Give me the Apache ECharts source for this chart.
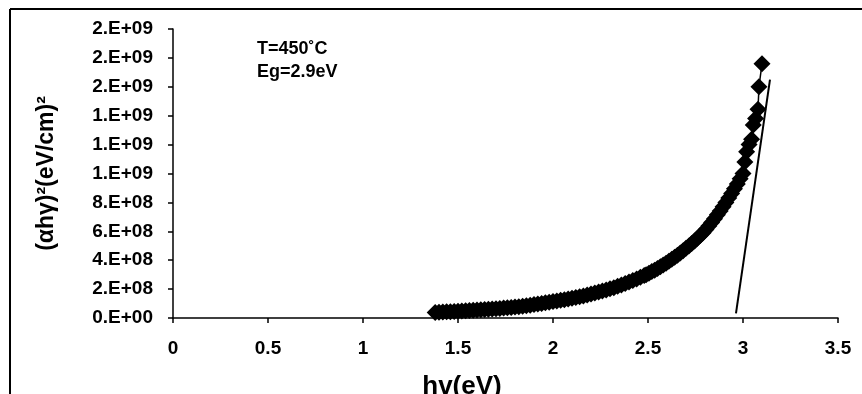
<!DOCTYPE html>
<html>
<head>
<meta charset="utf-8">
<script src="https://cdn.jsdelivr.net/npm/echarts@6/dist/echarts.min.js"></script>
<style>
html,body{margin:0;padding:0;background:#fff;}
#chart{width:862px;height:394px;}
</style>
</head>
<body>
<div id="chart"></div>
<script>
// ---- data ----
const hvValues = [
  1.38,1.40,1.42,1.44,1.46,1.48,1.50,1.52,1.54,1.56,1.58,1.60,1.62,1.64,1.66,1.68,1.70,
  1.72,1.74,1.76,1.78,1.80,1.82,1.84,1.86,1.88,1.90,1.92,1.94,1.96,1.98,2.00,
  2.02,2.04,2.06,2.08,2.10,2.12,2.14,2.16,2.18,2.20,2.22,2.24,2.26,2.28,2.30,2.32,
  2.34,2.36,2.38,2.40,2.42,2.44,2.46,2.48,2.49,
  2.505,2.52,2.535,2.55,2.565,2.58,2.595,2.61,2.625,2.64,2.655,2.67,
  2.685,2.70,2.715,2.73,2.745,2.76,2.775,2.79,
  2.805,2.82,2.835,2.85,2.865,2.88,2.895,
  2.91,2.925,2.94,2.955,2.97,2.985,3.00,
  3.010,3.019,3.032,3.045,3.054,3.066,3.079,3.084,3.100
];
const alphaHvSq = [
  3.80e7,3.94e7,4.09e7,4.24e7,4.40e7,4.56e7,4.73e7,4.91e7,5.10e7,5.27e7,5.42e7,5.57e7,5.73e7,5.89e7,6.05e7,6.22e7,6.40e7,
  6.62e7,6.85e7,7.09e7,7.33e7,7.59e7,7.85e7,8.17e7,8.52e7,8.88e7,9.26e7,9.65e7,1.006e8,1.049e8,1.093e8,1.140e8,
  1.182e8,1.226e8,1.271e8,1.318e8,1.367e8,1.417e8,1.470e8,1.529e8,1.591e8,1.655e8,1.722e8,1.792e8,1.864e8,1.940e8,2.018e8,2.100e8,
  2.19e8,2.284e8,2.382e8,2.484e8,2.59e8,2.70e8,2.82e8,2.94e8,3.00e8,
  3.104e8,3.21e8,3.31e8,3.43e8,3.55e8,3.67e8,3.79e8,3.92e8,4.06e8,4.20e8,4.34e8,4.50e8,
  4.66e8,4.82e8,4.98e8,5.16e8,5.33e8,5.52e8,5.71e8,5.90e8,
  6.13e8,6.37e8,6.61e8,6.87e8,7.14e8,7.41e8,7.70e8,
  7.99e8,8.30e8,8.61e8,8.94e8,9.28e8,9.63e8,1.00e9,
  1.08e9,1.151e9,1.20e9,1.237e9,1.336e9,1.38e9,1.444e9,1.60e9,1.76e9
];
// linear fit (tangent) line end points
const fitHv = [2.963, 3.142];
const fitVal = [3.2e7, 1.65e9];

const xTickLabels = ['0','0.5','1','1.5','2','2.5','3','3.5'];
const yTickLabels = ['0.E+00','2.E+08','4.E+08','6.E+08','8.E+08','1.E+09','1.E+09','1.E+09','2.E+09','2.E+09','2.E+09'];

const annotations = ['T=450˚C', 'Eg=2.9eV'];
const xName = 'hv(eV)';
const yName = '(αhγ)²(eV/cm)²';

// ---- build ----
const pc = document.createElement('canvas');
pc.width = 3; pc.height = 3;
const pctx = pc.getContext('2d');
pctx.fillStyle = '#000'; pctx.fillRect(0,0,3,3);
pctx.fillStyle = '#ffffff'; pctx.fillRect(1,1,1,1);

const pts = hvValues.map((v,i)=>[v, alphaHvSq[i]]);
const fitPts = fitHv.map((v,i)=>[v, fitVal[i]]);

const FONT = 'Liberation Sans, Arial, sans-serif';
const chart = echarts.init(document.getElementById('chart'));
chart.setOption({
  animation: false,
  backgroundColor: '#fff',
  grid: {left: 173, right: 24, top: 29, bottom: 76, containLabel: false, outerBoundsMode: 'none'},
  xAxis: {
    type: 'value', min: 0, max: 3.5, interval: 0.5,
    name: xName, nameLocation: 'middle', nameGap: 56,
    nameTextStyle: {fontFamily: FONT, fontWeight: 'bold', fontSize: 26, color: '#000', padding: [0, 87, 0, 0]},
    axisLine: {show: true, onZero: false, lineStyle: {color: '#000', width: 1.5}},
    axisTick: {show: true, inside: false, length: 5, lineStyle: {color: '#000', width: 1.5}},
    axisLabel: {fontFamily: FONT, fontWeight: 'bold', fontSize: 19, color: '#000', margin: 21,
      formatter: (v, i) => xTickLabels[i]},
    splitLine: {show: false}
  },
  yAxis: {
    type: 'value', min: 0, max: 2e9, interval: 2e8,
    name: yName, nameLocation: 'middle', nameGap: 115, nameRotate: 90,
    nameTextStyle: {fontFamily: FONT, fontWeight: 'bold', fontSize: 23, color: '#000'},
    axisLine: {show: true, onZero: false, lineStyle: {color: '#000', width: 1.5}},
    axisTick: {show: true, inside: false, length: 5, lineStyle: {color: '#000', width: 1.5}},
    axisLabel: {fontFamily: FONT, fontWeight: 'bold', fontSize: 19, color: '#000', margin: 20,
      formatter: (v, i) => yTickLabels[i]},
    splitLine: {show: false}
  },
  graphic: [
    {type: 'line', shape: {x1: 10, y1: 9, x2: 862, y2: 9}, style: {stroke: '#000', lineWidth: 2}},
    {type: 'line', shape: {x1: 10, y1: 9, x2: 10, y2: 394}, style: {stroke: '#000', lineWidth: 2}},
    {type: 'text', left: 257, top: 40, style: {text: annotations[0], font: 'bold 18px ' + FONT, fill: '#000'}},
    {type: 'text', left: 257, top: 63, style: {text: annotations[1], font: 'bold 18px ' + FONT, fill: '#000'}}
  ],
  series: [
    {
      type: 'line', data: pts, symbol: 'diamond', symbolSize: 17, showAllSymbol: true,
      lineStyle: {color: '#000', width: 1.5},
      itemStyle: {color: {image: pc, repeat: 'repeat'}, borderWidth: 0},
      emphasis: {disabled: true}, silent: true, z: 2
    },
    {
      type: 'line', data: fitPts, symbol: 'none',
      lineStyle: {color: '#000', width: 2},
      emphasis: {disabled: true}, silent: true, z: 3
    }
  ]
});
</script>
</body>
</html>
